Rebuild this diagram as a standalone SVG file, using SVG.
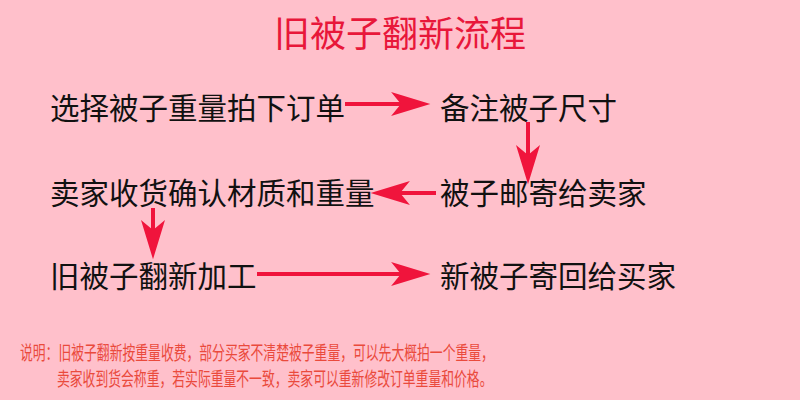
<svg xmlns="http://www.w3.org/2000/svg" width="800" height="400" viewBox="0 0 800 400">
  <defs>
    <style>
      .title { font-family: "Noto Sans CJK SC", "Noto Sans", sans-serif; font-size: 36px; fill: #E8173A; text-anchor: middle; }
      .node { font-family: "Noto Sans CJK SC", "Noto Sans", sans-serif; font-size: 29.5px; fill: #111111; }
      .note { font-family: "Noto Sans CJK SC", "Noto Sans", sans-serif; font-size: 19px; fill: #EA4A3C; }
      .conn { stroke: #F0143C; stroke-width: 4; fill: none; marker-end: url(#head); }
    </style>
    <marker id="head" markerUnits="userSpaceOnUse" markerWidth="40" markerHeight="24" viewBox="0 0 36 22" refX="10" refY="11" orient="auto">
      <path d="M0,0 L36,11 L0,22 L9,11 Z" fill="#F0143C"/>
    </marker>
  </defs>
  <rect width="800" height="400" fill="#FFC0CB"/>
  <text class="title" x="400" y="47">旧被子翻新流程</text>

  <g id="n1"><text class="node" x="50" y="119">选择被子重量拍下订单</text></g>
  <g id="n2"><text class="node" x="440" y="119">备注被子尺寸</text></g>
  <g id="n3"><text class="node" x="440" y="204">被子邮寄给卖家</text></g>
  <g id="n4"><text class="node" x="50" y="204">卖家收货确认材质和重量</text></g>
  <g id="n5"><text class="node" x="50" y="287">旧被子翻新加工</text></g>
  <g id="n6"><text class="node" x="440" y="287">新被子寄回给买家</text></g>

  <g id="connectors">
    <line class="conn" x1="345" y1="104" x2="402" y2="104"/>
    <line class="conn" x1="528" y1="122" x2="528" y2="156"/>
    <line class="conn" x1="436" y1="193" x2="399" y2="193"/>
    <line class="conn" x1="153" y1="208" x2="153" y2="231"/>
    <line class="conn" x1="257" y1="274" x2="402" y2="274"/>
  </g>

  <g id="notes">
    <text class="note" transform="translate(20,360) scale(0.675,1)">说明：旧被子翻新按重量收费，部分买家不清楚被子重量，可以先大概拍一个重量，</text>
    <text class="note" transform="translate(57,386) scale(0.675,1)">卖家收到货会称重，若实际重量不一致，卖家可以重新修改订单重量和价格。</text>
  </g>
</svg>
